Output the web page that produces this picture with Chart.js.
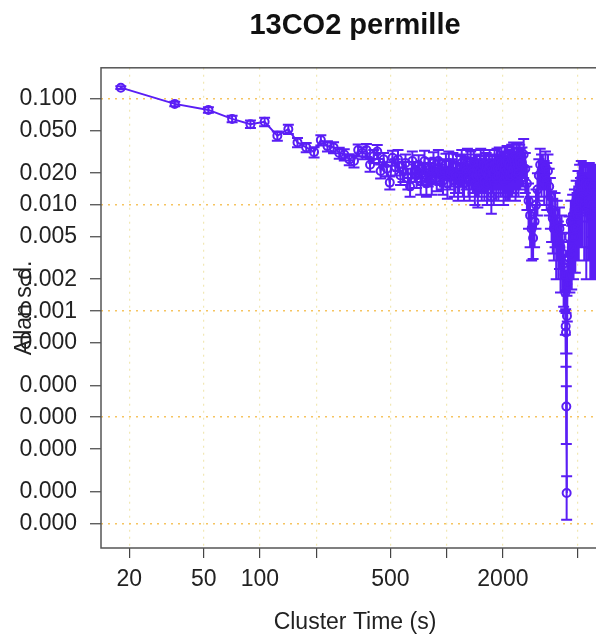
<!DOCTYPE html>
<html>
<head>
<meta charset="utf-8">
<script src="https://cdn.jsdelivr.net/npm/chart.js@4.4.1/dist/chart.umd.min.js"></script>
<style>
  html, body { margin: 0; padding: 0; background: #fff; overflow: hidden; }
  #wrap { width: 710px; height: 638px; }
</style>
</head>
<body>
<div id="wrap"><canvas id="allan" width="710" height="638"></canvas></div>
<script>
// cluster time (s)
var clusterTime = [
  18, 35, 53, 71, 89, 106, 124, 142, 159, 177, 195, 212, 230, 248, 266, 283, 301, 319, 336, 354,
  372, 389, 407, 425, 443, 460, 478, 496, 513,
  531, 549, 566, 584, 602, 620, 637, 655, 673, 690, 708, 726, 743, 761, 779, 797, 814, 832, 850, 867,
  885, 903, 920, 938, 956, 974, 991, 1009, 1027, 1044,
  1062, 1080, 1097, 1115, 1133, 1151, 1168, 1186, 1204, 1221, 1239, 1257, 1274, 1292, 1310, 1328, 1345, 1363, 1381, 1398,
  1416, 1434, 1451, 1469, 1487, 1505, 1522, 1540, 1558, 1575, 1593, 1611, 1628, 1646, 1664, 1682, 1699, 1717, 1735, 1752,
  1770, 1788, 1805, 1823, 1841, 1859, 1876, 1894, 1912, 1929, 1947, 1965, 1982, 2000, 2018, 2036, 2053, 2071, 2089, 2106,
  2124, 2142, 2159, 2177, 2195, 2213, 2230, 2248, 2266, 2283, 2301, 2319, 2336, 2354, 2372, 2390, 2407, 2425, 2443, 2460, 2478,
  2531, 2584, 2637, 2690, 2744, 2797, 2850, 2903, 2956, 3009, 3062, 3115, 3168, 3221, 3275, 3328, 3381, 3434, 3487, 3540,
  3593, 3646, 3699, 3752, 3806, 3859, 3912, 3965, 4018, 4071, 4124, 4177, 4230, 4283,
  4319, 4337, 4354, 4372, 4390, 4407, 4425,
  4460, 4514, 4567, 4620, 4673, 4726, 4779, 4832, 4885, 4938, 4991, 5045, 5098, 5151, 5204, 5257, 5310,
  5381, 5452, 5522, 5593, 5664, 5735, 5806, 5876, 5947, 6018, 6089, 6160, 6230, 6301, 6372
];

// allan s.d. (permille)
var allanSd = [
  0.128, 0.090, 0.079, 0.065, 0.058, 0.061, 0.045, 0.052, 0.039, 0.035, 0.0316, 0.041, 0.036, 0.035, 0.031, 0.030, 0.027, 0.026, 0.033, 0.031,
  0.033, 0.024, 0.029, 0.032, 0.021, 0.027, 0.022, 0.0163, 0.028,
  0.023, 0.027, 0.019, 0.021, 0.025, 0.018, 0.015, 0.026, 0.021, 0.019, 0.024, 0.017, 0.020, 0.026, 0.016, 0.020, 0.022, 0.017, 0.025, 0.022,
  0.018, 0.026, 0.021, 0.019, 0.017, 0.021, 0.024, 0.016, 0.025, 0.020,
  0.021, 0.024, 0.017, 0.019, 0.023, 0.016, 0.019, 0.022, 0.025, 0.018, 0.016, 0.023, 0.021, 0.026, 0.018, 0.017, 0.024, 0.021, 0.020, 0.025,
  0.016, 0.019, 0.022, 0.015, 0.019, 0.021, 0.025, 0.018, 0.020, 0.024, 0.017, 0.021, 0.023, 0.016, 0.019, 0.022, 0.024, 0.018, 0.012, 0.021,
  0.020, 0.017, 0.024, 0.022, 0.018, 0.025, 0.022, 0.019, 0.026, 0.022, 0.019, 0.025, 0.023, 0.020, 0.017, 0.022, 0.025, 0.019, 0.021, 0.026,
  0.018, 0.022, 0.024, 0.019, 0.020, 0.023, 0.027, 0.020, 0.022, 0.028, 0.025, 0.023, 0.019, 0.021, 0.027, 0.025, 0.023, 0.020, 0.028, 0.026, 0.024,
  0.025, 0.030, 0.022, 0.016, 0.011, 0.008, 0.006, 0.0049, 0.007, 0.010, 0.014, 0.019, 0.024, 0.021, 0.022, 0.018, 0.023, 0.017, 0.021, 0.015,
  0.012, 0.009, 0.0075, 0.006, 0.0085, 0.005, 0.007, 0.0045, 0.006, 0.004, 0.005, 0.0035, 0.0028, 0.0022,
  0.0015, 0.00072, 0.00063, 0.000126, 0.0000193, 0.0009, 0.0018,
  0.003, 0.005, 0.0035, 0.007, 0.004, 0.008, 0.005, 0.009, 0.006, 0.011, 0.008, 0.014, 0.009, 0.016, 0.011, 0.018, 0.012,
  0.017, 0.010, 0.016, 0.009, 0.015, 0.011, 0.016, 0.008, 0.014, 0.010, 0.015, 0.009, 0.013, 0.010, 0.012
];

// error bar half-length (same units)
var allanErr = [
  0.004, 0.0045, 0.0047, 0.0046, 0.0046, 0.0055, 0.0045, 0.0052, 0.0039, 0.0035, 0.0035, 0.0045, 0.004, 0.0042, 0.0037, 0.0036, 0.0032, 0.0034, 0.0043, 0.004,
  0.0046, 0.0034, 0.0041, 0.0048, 0.0032, 0.004, 0.0033, 0.0023, 0.0045,
  0.004, 0.006, 0.0035, 0.0045, 0.005, 0.004, 0.003, 0.006, 0.0045, 0.0045, 0.0055, 0.0045, 0.0045, 0.0065, 0.004, 0.005, 0.0055, 0.0045, 0.0065, 0.006,
  0.0045, 0.007, 0.0055, 0.005, 0.0045, 0.006, 0.0065, 0.0045, 0.007, 0.006,
  0.006, 0.007, 0.005, 0.006, 0.007, 0.005, 0.006, 0.007, 0.008, 0.006, 0.005, 0.007, 0.007, 0.008, 0.006, 0.006, 0.008, 0.007, 0.007, 0.008,
  0.006, 0.007, 0.008, 0.0055, 0.007, 0.008, 0.009, 0.007, 0.007, 0.009, 0.006, 0.008, 0.008, 0.006, 0.007, 0.008, 0.009, 0.007, 0.0037, 0.008,
  0.007, 0.007, 0.009, 0.008, 0.007, 0.009, 0.008, 0.008, 0.009, 0.008, 0.007, 0.010, 0.009, 0.008, 0.007, 0.009, 0.010, 0.008, 0.008, 0.010,
  0.007, 0.009, 0.009, 0.008, 0.008, 0.009, 0.010, 0.008, 0.009, 0.011, 0.010, 0.009, 0.008, 0.009, 0.011, 0.010, 0.009, 0.008, 0.011, 0.011, 0.010,
  0.010, 0.012, 0.009, 0.007, 0.005, 0.004, 0.003, 0.0018, 0.003, 0.004, 0.006, 0.008, 0.010, 0.009, 0.008, 0.008, 0.009, 0.008, 0.009, 0.007,
  0.006, 0.0045, 0.004, 0.003, 0.0045, 0.003, 0.004, 0.0025, 0.0035, 0.0025, 0.003, 0.002, 0.0017, 0.0012,
  0.0009, 0.00032, 0.00033, 0.00007, 0.0000085, 0.0005, 0.0010,
  0.0015, 0.0028, 0.002, 0.004, 0.0024, 0.0045, 0.003, 0.005, 0.0037, 0.006, 0.005, 0.007, 0.006, 0.008, 0.007, 0.008, 0.008,
  0.008, 0.007, 0.008, 0.007, 0.008, 0.008, 0.009, 0.006, 0.009, 0.008, 0.009, 0.007, 0.009, 0.008, 0.009
];

var xTicks = [20, 50, 100, 200, 500, 1000, 2000, 5000];
var xLabelled = [20, 50, 100, 500, 2000];
var yTicks = [0.1, 0.05, 0.02, 0.01, 0.005, 0.002, 0.001, 0.0005, 0.0002, 0.0001, 0.00005, 0.00002, 0.00001];
var yDecades = [0.1, 0.01, 0.001, 0.0001, 0.00001];

var purple = "#5a1ef5";
var fontFamily = "Arial, 'Liberation Sans', Helvetica, sans-serif";

var points = clusterTime.map(function (t, i) {
  return { x: t, y: allanSd[i] };
});

// error bars go under the line, placed with the chart's own scales
var errorBars = {
  id: "errorBars",
  beforeDatasetsDraw: function (chart) {
    var ctx = chart.ctx, xs = chart.scales.x, ys = chart.scales.y, a = chart.chartArea;
    ctx.save();
    ctx.beginPath();
    ctx.rect(a.left, a.top, a.right - a.left, a.bottom - a.top);
    ctx.clip();
    ctx.strokeStyle = purple;
    ctx.lineWidth = 2;
    ctx.beginPath();
    for (var i = 0; i < clusterTime.length; i++) {
      var px = xs.getPixelForValue(clusterTime[i]);
      var hi = ys.getPixelForValue(allanSd[i] + allanErr[i]);
      var lo = ys.getPixelForValue(Math.max(allanSd[i] - allanErr[i], 1e-7));
      ctx.moveTo(px, hi); ctx.lineTo(px, lo);
      ctx.moveTo(px - 5.5, hi); ctx.lineTo(px + 5.5, hi);
      ctx.moveTo(px - 5.5, lo); ctx.lineTo(px + 5.5, lo);
    }
    ctx.stroke();
    ctx.restore();
  }
};

// box round the plot region
var frame = {
  id: "frame",
  afterDraw: function (chart) {
    var a = chart.chartArea, ctx = chart.ctx;
    ctx.save();
    ctx.strokeStyle = "#555";
    ctx.lineWidth = 1.5;
    ctx.strokeRect(a.left, a.top, a.right - a.left, a.bottom - a.top);
    ctx.restore();
  }
};

var chart = new Chart(document.getElementById("allan"), {
  type: "line",
  data: {
    datasets: [{
      data: points,
      borderColor: purple,
      borderWidth: 2,
      pointRadius: 4,
      pointBorderWidth: 2,
      pointBorderColor: purple,
      pointBackgroundColor: "rgba(0,0,0,0)",
      tension: 0
    }]
  },
  options: {
    responsive: false,
    animation: false,
    layout: { padding: 0 },
    plugins: {
      legend: { display: false },
      tooltip: { enabled: false },
      title: {
        display: true,
        text: "13CO2 permille",
        color: "#111",
        font: { family: fontFamily, size: 29, weight: "bold" },
        padding: { top: 9, bottom: 24 }
      }
    },
    scales: {
      x: {
        type: "logarithmic",
        min: 14.1,
        max: 7400,
        afterBuildTicks: function (s) {
          s.ticks = xTicks.map(function (v) { return { value: v }; });
        },
        afterFit: function (s) { s.height = 90; },
        ticks: {
          autoSkip: false,
          maxRotation: 0,
          padding: 8,
          color: "#222",
          font: { family: fontFamily, size: 23 },
          callback: function (v) { return xLabelled.indexOf(v) >= 0 ? String(v) : ""; }
        },
        grid: {
          color: "rgba(235,222,150,0.7)",
          lineWidth: 1.2,
          tickLength: 10,
          tickColor: "#444",
          tickWidth: 1.2,
          tickBorderDash: []
        },
        border: { display: false, dash: [2, 5] },
        title: {
          display: true,
          text: "Cluster Time (s)",
          color: "#222",
          font: { family: fontFamily, size: 23 },
          padding: { top: 0, bottom: 2 }
        }
      },
      y: {
        type: "logarithmic",
        min: 0.00000585,
        max: 0.197,
        afterBuildTicks: function (s) {
          s.ticks = yTicks.map(function (v) { return { value: v }; });
        },
        afterFit: function (s) { s.width = 101; },
        ticks: {
          autoSkip: false,
          padding: 13,
          color: "#222",
          font: { family: fontFamily, size: 23 },
          // three decimals, cut rather than rounded (0.0005 -> 0.000)
          callback: function (v) { return (Math.floor(v * 1000 + 1e-9) / 1000).toFixed(3); }
        },
        grid: {
          color: function (c) {
            return c.tick && yDecades.indexOf(c.tick.value) >= 0 ? "rgb(246,196,96)" : "rgba(0,0,0,0)";
          },
          lineWidth: 1.5,
          tickLength: 11,
          tickColor: "#444",
          tickWidth: 1.2,
          tickBorderDash: []
        },
        border: { display: false, dash: [2, 5] },
        title: {
          display: true,
          text: "Allan s.d.",
          color: "#222",
          font: { family: fontFamily, size: 23 },
          padding: { top: 11, bottom: 0 }
        }
      },
      // empty right margin so the title centres over the plot
      yRight: {
        type: "linear",
        position: "right",
        display: true,
        afterFit: function (s) { s.width = 101; },
        ticks: { display: false },
        grid: { display: false },
        border: { display: false }
      }
    }
  },
  plugins: [errorBars, frame]
});
</script>
</body>
</html>
